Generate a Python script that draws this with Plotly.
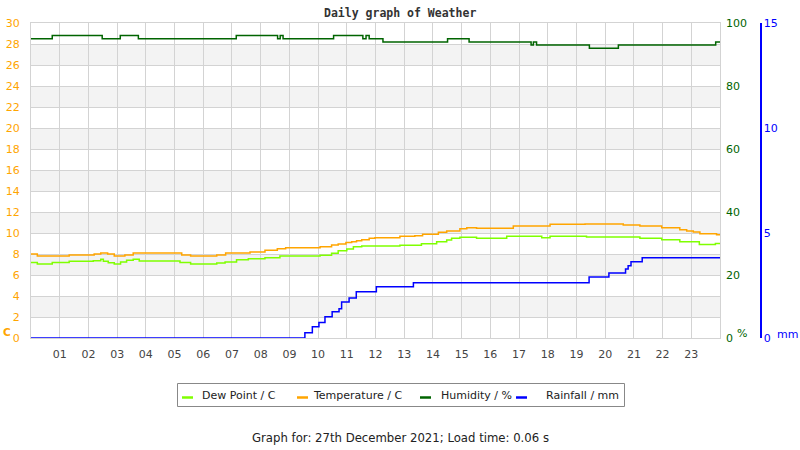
import plotly.graph_objects as go

# ---- data (hours of day, values) ----
dew_hours = [0, 0.22, 0.74, 1.33, 2.17, 2.43, 2.52, 2.69, 2.9, 3.12, 3.33, 3.56, 3.77, 5.19, 5.56,
             6.47, 6.76, 7.16, 7.57, 8.15, 8.67, 10.07, 10.47, 10.7, 11.0, 11.23, 11.52, 12.85,
             13.6, 14.13, 14.48, 14.65, 14.94, 15.52, 16.57, 17.79, 18.08, 19.35, 21.21, 21.97,
             22.6, 23.28, 23.84, 24]
dew_vals = [7.2, 7.05, 7.2, 7.3, 7.36, 7.5, 7.3, 7.17, 7.05, 7.24, 7.4, 7.5, 7.33, 7.2, 7.05,
            7.14, 7.24, 7.46, 7.55, 7.65, 7.8, 7.87, 8.06, 8.3, 8.47, 8.7, 8.76, 8.83,
            8.98, 9.17, 9.33, 9.5, 9.59, 9.5, 9.68, 9.55, 9.68, 9.62, 9.5, 9.36,
            9.17, 8.9, 9.0, 9.0]

temp_hours = [0, 0.22, 1.33, 2.2, 2.43, 2.67, 2.9, 3.27, 3.56, 5.25, 5.56, 6.47, 6.78, 7.63, 8.15,
              8.58, 8.87, 10.07, 10.47, 10.7, 10.97, 11.17, 11.34, 11.52, 11.78, 11.98, 12.85,
              13.37, 13.64, 14.19, 14.48, 14.94, 15.18, 15.52, 16.8, 18.08, 19.3, 20.63, 21.21,
              21.97, 22.6, 22.84, 23.07, 23.3, 23.88, 24]
temp_vals = [8.0, 7.8, 7.9, 8.0, 8.1, 8.0, 7.8, 7.9, 8.1, 7.9, 7.8, 7.9, 8.1, 8.2, 8.35,
             8.5, 8.6, 8.7, 8.85, 8.95, 9.1, 9.17, 9.27, 9.36, 9.5, 9.55, 9.68,
             9.75, 9.87, 10.06, 10.2, 10.4, 10.5, 10.45, 10.67, 10.83, 10.86, 10.76, 10.67,
             10.5, 10.3, 10.2, 10.1, 9.93, 9.84, 9.9]

hum_hours = [0, 0.74, 2.48, 3.11, 3.74, 7.15, 8.59, 8.68, 8.78, 10.54, 11.56, 11.67, 11.78,
             12.26, 14.51, 15.26, 17.42, 17.5, 17.61, 19.45, 20.46, 23.85, 24]
hum_vals = [95, 96, 95, 96, 95, 96, 95, 96, 95, 96, 95, 96, 95,
            94, 95, 94, 93, 94, 93, 92, 93, 94, 94]

rain_hours = [0, 9.54, 9.80, 10.03, 10.24, 10.49, 10.73, 10.82, 11.08, 11.33, 12.03, 13.32,
              19.44, 20.13, 20.71, 20.8, 20.9, 21.29, 24]
rain_vals = [0, 0.25, 0.53, 0.74, 1.01, 1.25, 1.39, 1.72, 1.91, 2.2, 2.44, 2.63,
             2.9, 3.1, 3.29, 3.44, 3.63, 3.82, 3.82]

hour_ticks = list(range(1, 24))
hour_labels = ["%02d" % h for h in hour_ticks]
temp_ticks = list(range(0, 31, 2))
hum_ticks = [0, 20, 40, 60, 80, 100]
rain_ticks = [0, 5, 10, 15]

series_names = ["Dew Point / C", "Temperature / C", "Humidity / %", "Rainfall / mm"]
series_colors = ["#7FFF00", "#FFA500", "#006400", "#0000FF"]

# ---- geometry helpers (pixel -> paper) ----
PL, PR, PT, PB = 31, 720, 23, 338
MR = 30
PW = 800 - PL - MR
PH = PB - PT


def fx(px):
    return (px - PL) / PW


def fy(py):
    return (PB - py) / PH


fig = go.Figure()
fig.add_trace(go.Scatter(x=dew_hours, y=dew_vals, mode="lines", line=dict(color=series_colors[0], width=1.5, shape="hv"),
                         showlegend=False, yaxis="y"))
fig.add_trace(go.Scatter(x=temp_hours, y=temp_vals, mode="lines", line=dict(color=series_colors[1], width=1.5, shape="hv"),
                         showlegend=False, yaxis="y"))
fig.add_trace(go.Scatter(x=hum_hours, y=hum_vals, mode="lines", line=dict(color=series_colors[2], width=1.5, shape="hv"),
                         showlegend=False, yaxis="y2"))
fig.add_trace(go.Scatter(x=rain_hours, y=rain_vals, mode="lines", line=dict(color=series_colors[3], width=1.5, shape="hv"),
                         showlegend=False, yaxis="y3"))

shapes = []
for k in range(2, 30, 4):
    shapes.append(dict(type="rect", xref="x", yref="y", x0=0, x1=24, y0=k, y1=k + 2,
                       fillcolor="#f3f3f3", line=dict(width=0), layer="below"))

# legend box
shapes.append(dict(type="rect", xref="paper", yref="paper", x0=fx(177.5), x1=fx(624.5),
                   y0=fy(383.5), y1=fy(406.5), line=dict(color="#888888", width=1)))
sw_x = [182, 297, 420, 516]
tx_x = [200, 310.5, 438.5, 543.5]
annotations = []
for i in range(4):
    shapes.append(dict(type="line", xref="paper", yref="paper", x0=fx(sw_x[i]), x1=fx(sw_x[i] + 11),
                       y0=fy(397.5), y1=fy(397.5), line=dict(color=series_colors[i], width=2.5)))
    annotations.append(dict(text=series_names[i], xref="paper", yref="paper", x=fx(tx_x[i]), y=fy(395.5),
                            xanchor="left", yanchor="middle", showarrow=False,
                            font=dict(family="DejaVu Sans", size=11, color="#222222")))

annotations += [
    dict(text="<b>Daily graph of Weather</b>", xref="paper", yref="paper", x=fx(400), y=fy(13),
         xanchor="center", yanchor="middle", showarrow=False,
         font=dict(family="DejaVu Sans Mono", size=11.5, color="#333333")),
    dict(text="Graph for: 27th December 2021; Load time: 0.06 s", xref="paper", yref="paper",
         x=fx(400), y=fy(438), xanchor="center", yanchor="middle", showarrow=False,
         font=dict(family="DejaVu Sans", size=11.7, color="#222222")),
    dict(text="<b>C</b>", xref="paper", yref="paper", x=fx(0.5), y=fy(332), xanchor="left", yanchor="middle",
         showarrow=False, font=dict(family="DejaVu Sans", size=10.5, color="#FFA500")),
    dict(text="%", xref="paper", yref="paper", x=fx(735), y=fy(333), xanchor="left", yanchor="middle",
         showarrow=False, font=dict(family="DejaVu Sans", size=11, color="#006400")),
    dict(text="mm", xref="paper", yref="paper", x=fx(775), y=fy(334), xanchor="left", yanchor="middle",
         showarrow=False, font=dict(family="DejaVu Sans", size=11, color="#0000FF")),
]

fig.update_layout(
    width=800, height=450,
    margin=dict(l=PL, r=MR, t=PT, b=450 - PB, pad=0, autoexpand=False),
    paper_bgcolor="white", plot_bgcolor="white",
    showlegend=False,
    xaxis=dict(domain=[0, (PR - PL) / PW], range=[0, 24], tickvals=hour_ticks, ticktext=hour_labels,
               showgrid=True, gridcolor="#d3d3d3", gridwidth=1, zeroline=False,
               showline=True, mirror=True, linecolor="#d3d3d3", linewidth=1, ticks="",
               ticklabelstandoff=6, automargin=False,
               tickfont=dict(family="DejaVu Sans", size=11, color="#444444")),
    yaxis=dict(range=[0, 30], tickvals=temp_ticks, showgrid=True, gridcolor="#d3d3d3", gridwidth=1,
               zeroline=False, showline=True, mirror=True, linecolor="#d3d3d3", linewidth=1, ticks="",
               ticklabelstandoff=8, automargin=False,
               tickfont=dict(family="DejaVu Sans", size=11, color="#FFA500")),
    yaxis2=dict(range=[0, 100], tickvals=hum_ticks, overlaying="y", side="right", anchor="x",
                showgrid=False, zeroline=False, showline=False, ticks="", ticklabelstandoff=5,
                automargin=False,
                tickfont=dict(family="DejaVu Sans", size=11, color="#006400")),
    yaxis3=dict(range=[0, 15], tickvals=rain_ticks, overlaying="y", side="right", anchor="free",
                position=fx(760.5), showgrid=False, zeroline=False, showline=True,
                linecolor="#0000FF", linewidth=2, ticks="", automargin=False,
                tickfont=dict(family="DejaVu Sans", size=11, color="#0000FF")),
    shapes=shapes,
    annotations=annotations,
)

fig.write_html("out.html")
